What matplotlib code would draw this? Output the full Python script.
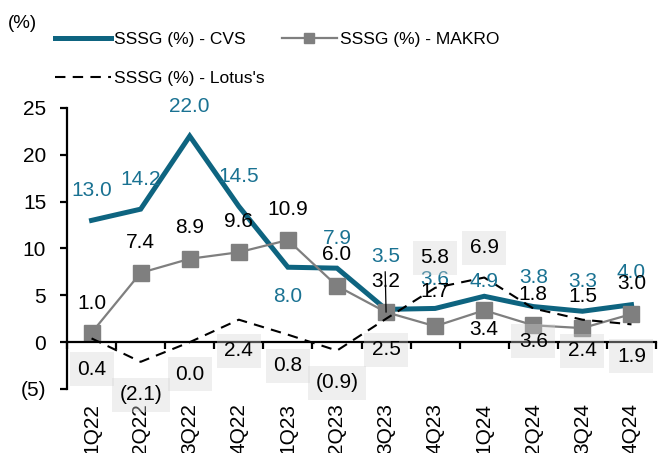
import numpy as np
import matplotlib
matplotlib.use('Agg')
from matplotlib import pyplot as plt
from matplotlib.ticker import FuncFormatter

### data
quarters = ['1Q22', '2Q22', '3Q22', '4Q22', '1Q23', '2Q23', '3Q23', '4Q23',
            '1Q24', '2Q24', '3Q24', '4Q24']
sssg_cvs = [13.0, 14.2, 22.0, 14.5, 8.0, 7.9, 3.5, 3.6, 4.9, 3.8, 3.3, 4.0]
sssg_makro = [1.0, 7.4, 8.9, 9.6, 10.9, 6.0, 3.2, 1.7, 3.4, 1.8, 1.5, 3.0]
sssg_lotus = [0.4, -2.1, 0.0, 2.4, 0.8, -0.9, 2.5, 5.8, 6.9, 3.6, 2.4, 1.9]

### label placement (vertical offset in pixels)
off_cvs = [30, 30, 30, 30, -29, 30, 53, 29, 15, 29, 30, 32]
off_makro = [29, 30, 31, 31, 31, 31, 31, 35, -19, 31, 32, 31]
off_lotus = [-31, -33, -32, -31, -31, -32, -31, 30, 30, -33, -31, -32]

teal = '#0e6480'
teal_txt = '#1a7292'
grey = '#7f7f7f'

plt.rcParams['font.family'] = ['Liberation Sans', 'DejaVu Sans']

fig = plt.figure(figsize=(6.59, 4.53), dpi=100)
ax = fig.add_axes([0.1017, 0.1413, 0.8938, 0.6203])

x = np.arange(len(quarters))
l1, = ax.plot(x, sssg_cvs, color=teal, lw=3.6, solid_joinstyle='miter',
              label='SSSG (%) - CVS', zorder=2)
l2, = ax.plot(x, sssg_makro, color=grey, lw=1.6, marker='s', ms=11.5,
              mec=grey, mfc=grey, label='SSSG (%) - MAKRO', zorder=2.1)
l3, = ax.plot(x, sssg_lotus, color='black', lw=1.5, dashes=(5, 3.5),
              label="SSSG (%) - Lotus's", zorder=2.2)

def fmt(v):
    return '({:.1f})'.format(abs(v)) if v < 0 else '{:.1f}'.format(v)

fs = 15
for i, v in enumerate(sssg_cvs):
    ax.annotate(fmt(v), (i, v), xytext=(0, off_cvs[i]), textcoords='offset pixels',
                ha='center', va='center', fontsize=fs, color=teal_txt)
for i, v in enumerate(sssg_makro):
    kw = {}
    if i == 6:
        # leader line of the 3Q23 label
        kw = dict(arrowprops=dict(arrowstyle='-', color='black', lw=0.9, patchA=None,
                                  shrinkA=0, shrinkB=0, relpos=(0.47, 1.0)))
    ax.annotate(fmt(v), (i, v), xytext=(0, off_makro[i]), textcoords='offset pixels',
                ha='center', va='center', fontsize=fs, color='black', **kw)
for i, v in enumerate(sssg_lotus):
    ax.annotate(fmt(v), (i, v), xytext=(0, off_lotus[i]), textcoords='offset pixels',
                ha='center', va='center', fontsize=fs, color='black',
                bbox=dict(boxstyle='square,pad=0.36', fc='#d5d5d5', ec='none', alpha=0.37))

### axes
ax.set_xlim(-0.5, len(quarters) - 0.5)
ax.set_ylim(-5, 25)
ax.set_yticks(np.arange(-5, 26, 5))
ax.yaxis.set_major_formatter(FuncFormatter(lambda v, p: '({:.0f})'.format(abs(v)) if v < 0 else '{:.0f}'.format(v)))
ax.tick_params(axis='y', labelsize=fs, length=5, width=1.6, pad=10, direction='out')
ax.spines['left'].set_linewidth(1.6)
ax.spines['top'].set_visible(False)
ax.spines['right'].set_visible(False)

# x axis line at zero with boundary ticks
ax.spines['bottom'].set_position(('data', 0))
ax.spines['bottom'].set_linewidth(1.6)
ax.set_xticks(np.arange(-0.5, len(quarters), 1.0))
ax.set_xticklabels([])
ax.tick_params(axis='x', length=5, width=1.6, direction='out')

sec = ax.secondary_xaxis(0)
sec.set_xticks(x)
sec.set_xticklabels(quarters, rotation=90, fontsize=15)
sec.tick_params(length=0, pad=10)
sec.spines['bottom'].set_visible(False)

fig.text(0.012, 0.948, '(%)', fontsize=13.5, ha='left', va='center')

handles = [l1, l3, l2]
fig.legend(handles, [h.get_label() for h in handles], ncol=2, loc='upper left',
           bbox_to_anchor=(0.084, 0.93), frameon=False, fontsize=12.5,
           handlelength=3.2, handletextpad=0.15, columnspacing=1.0,
           labelspacing=1.4, borderpad=0, borderaxespad=0, markerscale=0.6)

fig.savefig('out.png', dpi=100)
